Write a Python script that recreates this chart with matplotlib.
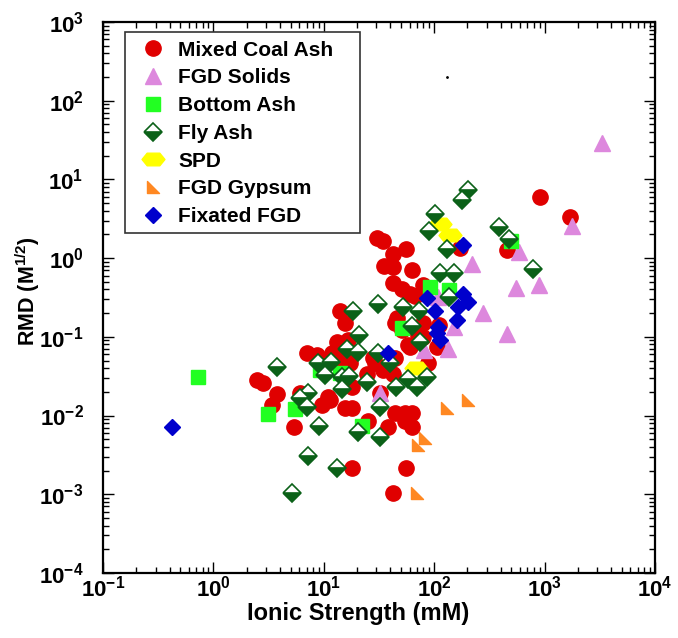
import matplotlib
matplotlib.use("Agg")
import matplotlib.pyplot as plt
from matplotlib.path import Path
from matplotlib.patches import Rectangle
from matplotlib.ticker import LogLocator, NullFormatter

plt.rcParams["font.family"] = ["Liberation Sans", "DejaVu Sans"]
plt.rcParams["font.weight"] = "bold"
plt.rcParams["mathtext.fontset"] = "custom"
plt.rcParams["mathtext.rm"] = "Liberation Sans:bold"
plt.rcParams["mathtext.bf"] = "Liberation Sans:bold"
plt.rcParams["mathtext.it"] = "Liberation Sans:bold"
plt.rcParams["axes.unicode_minus"] = False

# Ionic strength (mM) and RMD (M^1/2) per material type
mixed_is = [900, 1700, 30.3, 34.4, 55.6, 171, 456, 42.4, 35.1, 42.4, 62.9, 42.4,
            51.1, 60.4, 67.0, 79, 14.0, 15.6, 79.2, 110, 46, 44, 51, 71, 79,
            13.2, 16.6, 58, 60, 106, 7.0, 8.7, 11.9, 15.6, 17.3, 14.0, 24.6,
            27.9, 29, 44, 34.4, 42.4, 88, 18, 32.3, 10.9, 6.1, 2.48, 2.81,
            3.77, 3.40, 5.37, 9.64, 11.4, 15.6, 18.0, 25.1, 38.2, 44.2, 54.4,
            62.9, 54.4, 62.9, 18, 55.6, 42.4]
mixed_rmd = [6.0, 3.3, 1.8, 1.65, 1.31, 1.34, 1.27, 1.13, 0.79, 0.77, 0.71, 0.48,
             0.40, 0.35, 0.33, 0.46, 0.21, 0.152, 0.152, 0.14, 0.173, 0.152,
             0.122, 0.105, 0.099, 0.086, 0.091, 0.079, 0.074, 0.074, 0.062,
             0.059, 0.062, 0.054, 0.046, 0.041, 0.034, 0.054, 0.047, 0.054,
             0.038, 0.034, 0.046, 0.023, 0.0196, 0.0172, 0.0196, 0.028, 0.026,
             0.0188, 0.0136, 0.0071, 0.0136, 0.0157, 0.0124, 0.0124, 0.0084,
             0.0071, 0.0109, 0.0109, 0.0109, 0.0084, 0.0071, 0.00215, 0.00215,
             0.00104]

fgd_solids_is = [3300, 1770, 590, 550, 890, 277, 456, 220, 151, 133, 81, 32, 108]
fgd_solids_rmd = [29, 2.56, 1.2, 0.42, 0.45, 0.2, 0.11, 0.84, 0.133, 0.07,
                  0.068, 0.0196, 0.32]

bottom_is = [0.72, 3.1, 5.5, 22, 9.2, 14, 51, 92, 136, 500]
bottom_rmd = [0.031, 0.0104, 0.012, 0.0074, 0.038, 0.035, 0.13, 0.43, 0.39, 1.65]

fly_is = [202, 179, 102, 90, 131, 386, 476, 785, 113, 151, 136, 18.4, 31, 52,
          73, 63, 74, 21, 16.2, 20.4, 8.9, 11.6, 10.3, 14.6, 16.9, 14.6, 24.6,
          31, 40, 45, 58, 70, 86, 7.2, 6.1, 7.0, 9.05, 32.3, 20.4, 32.3, 7.2,
          13.2, 5.15, 3.77]
fly_rmd = [7.3, 5.5, 3.6, 2.2, 1.31, 2.5, 1.75, 0.73, 0.65, 0.65, 0.32, 0.21,
           0.26, 0.24, 0.21, 0.137, 0.086, 0.105, 0.070, 0.064, 0.046, 0.048,
           0.033, 0.031, 0.032, 0.022, 0.027, 0.062, 0.047, 0.023, 0.029,
           0.023, 0.031, 0.0196, 0.0167, 0.0128, 0.0074, 0.0128, 0.0062,
           0.0053, 0.0031, 0.00215, 0.00104, 0.041]

spd_is = [113, 139, 68]
spd_rmd = [2.71, 1.96, 0.040]

gypsum_is = [83, 71, 70, 131, 202]
gypsum_rmd = [0.0052, 0.0042, 0.00104, 0.0124, 0.0157]

fixated_is = [0.42, 182, 86, 182, 202, 102, 164, 161, 108, 106, 113, 38]
fixated_rmd = [0.0071, 1.47, 0.31, 0.35, 0.28, 0.21, 0.24, 0.163, 0.133, 0.112,
               0.091, 0.062]

stray_is = [131]
stray_rmd = [200]

# flattened hexagon and lower-left right triangle marker shapes
flat_hex = Path([(-1.0, 0.0), (-0.55, 0.55), (0.55, 0.55), (1.0, 0.0),
                 (0.55, -0.55), (-0.55, -0.55), (-1.0, 0.0)], closed=True)
corner_tri = Path([(-1, 1), (-1, -1), (1, -1), (-1, 1)], closed=True)

fig = plt.figure(figsize=(6.78, 6.38), dpi=100)
ax = fig.add_axes([0.152, 0.102, 0.814, 0.8635])

ax.plot(mixed_is, mixed_rmd, ls="none", marker="o", ms=11, mfc="#e00000",
        mec="#e00000", label="Mixed Coal Ash", zorder=3)
ax.plot(fgd_solids_is, fgd_solids_rmd, ls="none", marker="^", ms=11,
        mfc="#dd88dd", mec="#dd88dd", label="FGD Solids", zorder=4)
ax.plot(bottom_is, bottom_rmd, ls="none", marker="s", ms=10, mfc="#22ff22",
        mec="#22ff22", label="Bottom Ash", zorder=5)
ax.plot(fly_is, fly_rmd, ls="none", marker="D", ms=9.3, fillstyle="bottom",
        mfc="#0b6118", mfcalt="white", mec="#0b6118", mew=1.2,
        label="Fly Ash", zorder=7)
ax.plot(spd_is, spd_rmd, ls="none", marker=flat_hex, ms=16.5, mfc="#ffff00",
        mec="#ffff00", label="SPD", zorder=6)
ax.plot(gypsum_is, gypsum_rmd, ls="none", marker=corner_tri, ms=9,
        mfc="#ff8822", mec="#ff8822", label="FGD Gypsum", zorder=8)
ax.plot(fixated_is, fixated_rmd, ls="none", marker="D", ms=7.8, mfc="#0000cc",
        mec="#0000cc", label="Fixated FGD", zorder=9)
ax.plot(stray_is, stray_rmd, ls="none", marker=".", ms=2, color="black",
        zorder=3)

ax.set_xscale("log")
ax.set_yscale("log")
ax.set_xlim(0.1, 1e4)
ax.set_ylim(1e-4, 1e3)

ax.xaxis.set_major_locator(LogLocator(base=10, numticks=20))
ax.yaxis.set_major_locator(LogLocator(base=10, numticks=20))
ax.xaxis.set_minor_locator(LogLocator(base=10, subs=range(2, 10), numticks=50))
ax.yaxis.set_minor_locator(LogLocator(base=10, subs=range(2, 10), numticks=50))
ax.xaxis.set_minor_formatter(NullFormatter())
ax.yaxis.set_minor_formatter(NullFormatter())

ax.tick_params(which="both", direction="in", top=True, right=True,
               labelsize=16, width=1)
ax.tick_params(which="major", length=8)
ax.tick_params(which="minor", length=4)
ax.tick_params(axis="x", which="major", pad=2)
ax.tick_params(axis="y", which="major", pad=14)
for sp in ax.spines.values():
    sp.set_linewidth(1.6)

ax.set_xlabel("Ionic Strength (mM)", fontsize=17, fontweight="bold",
              va="center")
ax.xaxis.set_label_coords(0.462, -0.073)
ax.set_ylabel("RMD (M$^{1/2}$)", fontsize=15.5, fontweight="bold", va="center")
ax.yaxis.set_label_coords(-0.136, 0.512)

# legend box outline and entries
ax.add_patch(Rectangle((0.0399, 0.617), 0.4257, 0.3649, transform=ax.transAxes,
                       facecolor="white", edgecolor="#333333", lw=1.2,
                       zorder=10))
leg = ax.legend(loc="upper left", bbox_to_anchor=(0.0453, 0.989), fontsize=15,
                frameon=False, borderpad=0.6, labelspacing=0.42,
                handletextpad=0.6, handlelength=1.2, borderaxespad=0.0)
leg.set_zorder(11)
for t in leg.get_texts():
    t.set_fontweight("bold")

fig.savefig("out.png", dpi=100)
